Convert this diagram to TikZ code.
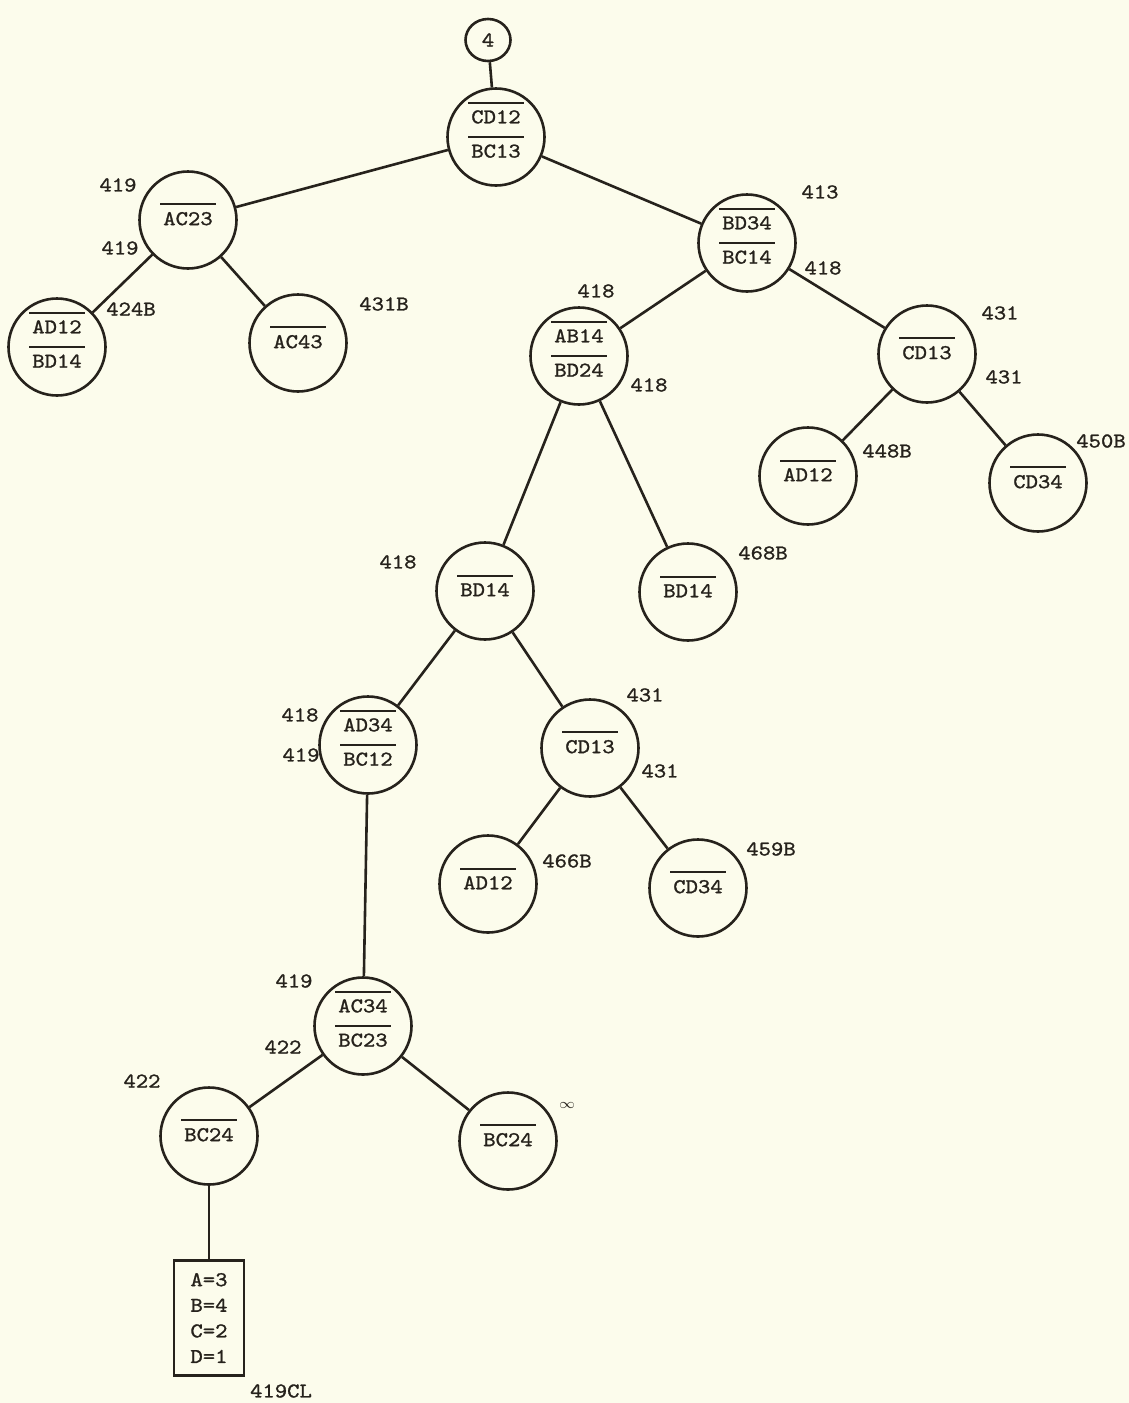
\documentclass[tikz,border=0pt]{standalone}
\usepackage{fontspec}
\setmonofont[FakeStretch=1.12,FakeBold=1.2]{Latin Modern Mono}
\usetikzlibrary{shapes.geometric}
\definecolor{paper}{RGB}{252,252,236}
\definecolor{ink}{RGB}{38,34,28}
% overlined term, and one- or two-term circle contents
\newcommand\ob[1]{\vbox{\hrule height 1pt\kern 3.3pt\hbox{\kern1.5pt#1\kern1.5pt}}}
\newcommand\uno[1]{\raisebox{2.8pt}[\height][\depth]{\ob{#1}}}
\newcommand\duo[2]{\raisebox{1.8pt}[\height][\depth]{\begin{tabular}{@{}c@{}}\ob{#1}\\[2.5pt]\ob{#2}\end{tabular}}}
\begin{document}
\begin{tikzpicture}[x=0.5pt,y=-0.5pt,
  tt/.style={font=\ttfamily\fontsize{10.5}{12.6}\selectfont, text=ink},
  circ/.style={tt, circle, draw=ink, line width=1.3pt, minimum size=48.5pt, inner sep=0pt},
  lbl/.style={tt, inner sep=0pt},
  link/.style={draw=ink, line width=1.3pt}]
\fill[paper] (0,0) rectangle (1129,1403);
\useasboundingbox (0,0) rectangle (1129,1403);

% tree nodes
\node[tt, ellipse, draw=ink, line width=1.3pt, minimum width=22.5pt, minimum height=21pt, inner sep=0pt] (n4) at (488,40) {4};
\node[circ] (root)  at (496,137)  {\duo{CD12}{BC13}};
\node[circ] (ac23)  at (188,220)  {\uno{AC23}};
\node[circ] (adbd)  at (57,347)   {\duo{AD12}{BD14}};
\node[circ] (ac43)  at (298,343)  {\uno{AC43}};
\node[circ] (bdbc)  at (747,243)  {\duo{BD34}{BC14}};
\node[circ] (abbd)  at (579,356)  {\duo{AB14}{BD24}};
\node[circ] (cd13a) at (927,354)  {\uno{CD13}};
\node[circ] (ad12a) at (808,476)  {\uno{AD12}};
\node[circ] (cd34a) at (1038,483) {\uno{CD34}};
\node[circ] (bd14a) at (485,591)  {\uno{BD14}};
\node[circ] (bd14b) at (688,592)  {\uno{BD14}};
\node[circ] (adbc)  at (368,745)  {\duo{AD34}{BC12}};
\node[circ] (cd13b) at (590,748)  {\uno{CD13}};
\node[circ] (ad12b) at (488,884)  {\uno{AD12}};
\node[circ] (cd34b) at (698,888)  {\uno{CD34}};
\node[circ] (acbc)  at (363,1026) {\duo{AC34}{BC23}};
\node[circ] (bc24a) at (209,1136) {\uno{BC24}};
\node[circ] (bc24b) at (508,1141) {\uno{BC24}};
\node[tt, draw=ink, line width=1.3pt, minimum width=35pt, minimum height=57.5pt, inner sep=0pt, align=center,
      font=\ttfamily\fontsize{10.5}{12.8}\selectfont] (sol) at (209,1318) {A=3\\B=4\\C=2\\D=1};

% branches
\draw[link] (n4) -- (root);
\draw[link] (root) -- (ac23);
\draw[link] (root) -- (bdbc);
\draw[link] (ac23) -- (adbd);
\draw[link] (ac23) -- (ac43);
\draw[link] (bdbc) -- (abbd);
\draw[link] (bdbc) -- (cd13a);
\draw[link] (cd13a) -- (ad12a);
\draw[link] (cd13a) -- (cd34a);
\draw[link] (abbd) -- (bd14a);
\draw[link] (abbd) -- (bd14b);
\draw[link] (bd14a) -- (adbc);
\draw[link] (bd14a) -- (cd13b);
\draw[link] (cd13b) -- (ad12b);
\draw[link] (cd13b) -- (cd34b);
\draw[link] (adbc) -- (acbc);
\draw[link] (acbc) -- (bc24a);
\draw[link] (acbc) -- (bc24b);
\draw[link] (bc24a) -- (sol);

% bound values
\node[lbl] (l1)  at (118,185)  {419};
\node[lbl] (l2)  at (120,248)  {419};
\node[lbl] (l3)  at (131,309)  {424B};
\node[lbl] (l4)  at (384,304)  {431B};
\node[lbl] (l5)  at (820,192)  {413};
\node[lbl] (l6)  at (823,268)  {418};
\node[lbl] (l7)  at (596,291)  {418};
\node[lbl] (l8)  at (649,385)  {418};
\node[lbl] (l9)  at (1000,313) {431};
\node[lbl] (l10) at (1004,377) {431};
\node[lbl] (l11) at (887,451)  {448B};
\node[lbl] (l12) at (1101,441) {450B};
\node[lbl] (l13) at (398,562)  {418};
\node[lbl] (l14) at (763,553)  {468B};
\node[lbl] (l15) at (645,695)  {431};
\node[lbl] (l16) at (660,771)  {431};
\node[lbl] (l17) at (300,715)  {418};
\node[lbl] (l18) at (301,755)  {419};
\node[lbl] (l19) at (567,861)  {466B};
\node[lbl] (l20) at (771,849)  {459B};
\node[lbl] (l21) at (294,981)  {419};
\node[lbl] (l22) at (283,1047) {422};
\node[lbl] (l23) at (142,1081) {422};
\node[lbl, font=\fontsize{7}{8}\selectfont] (l24) at (567,1105) {$\infty$};
\node[lbl] (l25) at (281,1391) {419CL};
\end{tikzpicture}
\end{document}
